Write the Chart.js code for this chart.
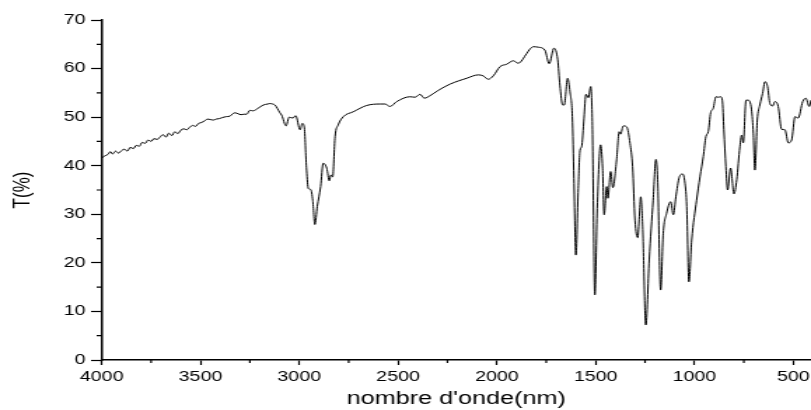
<!DOCTYPE html>
<html>
<head>
<meta charset="utf-8">
<script src="https://cdn.jsdelivr.net/npm/chart.js@4"></script>
<style>
html,body{margin:0;padding:0;background:#fff;overflow:hidden}
canvas{display:block}
</style>
</head>
<body>
<canvas id="c" width="579" height="410" style="width:811px;height:410px"></canvas>
<script>
const wavenumbers = [
  4000,3985,3970,3955,3945,3930,3915,3900,3885,3870,
  3855,3840,3825,3810,3795,3780,3765,3750,3735,3720,
  3705,3690,3675,3660,3645,3630,3615,3600,3585,3570,
  3555,3540,3525,3510,3495,3480,3465,3450,3435,3420,
  3405,3390,3370,3351,3340,3325,3310,3295,3280,3266,
  3250,3234,3210,3182,3160,3148,3135,3123,3098,3089,
  3067,3051,3033,3018,2996,2985,2975,2963,2954,2942,
  2932,2921,2909,2892,2879,2861,2848,2840,2831,2819,
  2803,2777,2727,2659,2592,2566,2541,2507,2440,2414,
  2389,2367,2339,2297,2237,2153,2094,2069,2044,2018,
  1984,1950,1917,1892,1849,1833,1816,1790,1757,1735,
  1711,1692,1681,1667,1659,1642,1630,1618,1610,1600,
  1588,1579,1571,1559,1549,1537,1525,1517,1504,1492,
  1475,1465,1457,1444,1438,1424,1413,1394,1381,1374,
  1360,1343,1326,1313,1301,1287,1279,1272,1262,1246,
  1229,1209,1195,1186,1171,1158,1141,1120,1107,1094,
  1077,1060,1048,1039,1028,1014,989,972,955,942,
  930,918,905,891,880,867,859,851,841,832,
  817,800,786,770,761,753,739,728,711,702,
  694,682,669,655,643,630,618,604,593,576,
  559,542,525,508,491,475,452,436,419,410
];
const transmittance = [
  41.6,42.0,42.3,42.9,42.4,43.0,42.6,43.1,43.4,43.0,
  43.8,43.5,44.2,44.0,44.8,44.6,45.3,45.0,45.6,45.4,
  45.9,46.4,45.9,46.7,46.2,47.0,46.6,47.3,47.6,47.4,
  47.9,48.3,48.1,48.7,48.9,49.2,49.6,49.5,49.4,49.6,
  49.7,49.9,50.1,50.2,50.6,50.9,50.7,50.5,50.6,50.6,
  51.4,51.3,51.8,52.5,52.7,52.8,52.7,52.5,50.9,50.4,
  48.2,50.0,49.8,50.3,47.4,48.7,48.0,39.1,35.3,35.1,
  32.9,27.9,31.6,35.7,40.5,39.5,36.9,38.1,37.7,46.0,
  48.4,50.1,51.1,52.4,52.7,52.7,52.2,53.2,54.2,54.1,
  54.7,53.9,54.4,55.5,56.8,58.0,58.7,58.5,57.8,58.5,
  60.4,60.9,61.6,61.1,63.1,64.0,64.5,64.4,63.8,61.0,
  64.2,61.8,56.6,52.5,52.5,58.0,55.2,50.1,37.4,21.6,
  35.3,43.2,43.9,49.8,54.7,54.0,56.3,49.1,13.4,31.2,
  44.3,39.5,29.9,35.7,33.3,38.8,35.5,41.2,47.0,46.5,
  48.2,48.0,44.6,39.8,28.8,25.2,29.5,33.6,27.4,7.2,
  20.6,32.9,41.3,37.1,14.4,26.1,30.2,32.6,29.9,33.6,
  37.6,38.3,36.4,31.6,16.1,24.7,32.9,37.7,41.9,46.0,
  47.0,50.9,51.8,54.2,54.1,54.2,53.5,47.4,39.8,35.0,
  39.5,34.2,37.1,43.9,46.3,44.7,53.5,53.5,51.5,46.7,
  39.1,49.4,52.5,54.9,57.3,56.3,52.8,52.3,53.2,52.2,
  47.5,47.4,44.7,45.3,50.1,49.8,53.2,53.9,52.2,53.5
];
const xTickValues = [500,1000,1500,2000,2500,3000,3500,4000];
const xMinorTickValues = [750,1250,1750,2250,2750,3250,3750];
const yTickValues = [0,10,20,30,40,50,60,70];
const yMinorTickValues = [5,15,25,35,45,55,65];
const xTitle = "nombre d'onde(nm)";
const yTitle = "T(%)";

const FONT = "'Liberation Sans', Arial, sans-serif";

const minorTicks = {
  id: 'minorTicks',
  afterDraw(chart) {
    const ctx = chart.ctx, xs = chart.scales.x, ys = chart.scales.y;
    ctx.save();
    ctx.strokeStyle = '#000';
    ctx.lineWidth = 1.2;
    ctx.beginPath();
    xMinorTickValues.forEach(v => {
      const p = xs.getPixelForValue(v);
      ctx.moveTo(p, xs.top);
      ctx.lineTo(p, xs.top + 3);
    });
    yMinorTickValues.forEach(v => {
      const p = ys.getPixelForValue(v);
      ctx.moveTo(ys.right, p);
      ctx.lineTo(ys.right - 3.6, p);
    });
    ctx.stroke();
    ctx.restore();
  }
};

new Chart(document.getElementById('c'), {
  type: 'line',
  data: {
    datasets: [{
      data: wavenumbers.map((w, i) => ({x: w, y: transmittance[i]})),
      borderColor: '#000',
      borderWidth: 1,
      pointRadius: 0,
      fill: false,
      cubicInterpolationMode: 'monotone'
    }]
  },
  options: {
    responsive: false,
    devicePixelRatio: 1,
    animation: false,
    layout: {padding: {top: 20, right: 0, bottom: 0, left: 0}},
    plugins: {legend: {display: false}, tooltip: {enabled: false}},
    scales: {
      x: {
        type: 'linear',
        reverse: true,
        min: 410,
        max: 4000,
        afterBuildTicks: s => { s.ticks = xTickValues.map(v => ({value: v})); },
        afterFit: s => { s.height = 50; s.paddingLeft = 0; s.paddingRight = 0; },
        grid: {drawOnChartArea: false, drawTicks: true, tickLength: 5, tickColor: '#000', tickWidth: 1.2},
        border: {display: true, color: '#000', width: 1.5},
        ticks: {color: '#000', font: {family: FONT, size: 14}, padding: 4, maxRotation: 0, autoSkip: false,
                callback: v => String(v)},
        title: {display: true, text: xTitle, color: '#000', font: {family: FONT, size: 18}, padding: {top: 0, bottom: 0}}
      },
      y: {
        type: 'linear',
        min: 0,
        max: 70,
        afterBuildTicks: s => { s.ticks = yTickValues.map(v => ({value: v})); },
        afterFit: s => { s.width = 72.6; s.paddingTop = 0; s.paddingBottom = 0; },
        grid: {drawOnChartArea: false, drawTicks: true, tickLength: 7.6, tickColor: '#000', tickWidth: 1.2},
        border: {display: true, color: '#000', width: 1.5},
        ticks: {color: '#000', font: {family: FONT, size: 14}, padding: 4, autoSkip: false,
                callback: v => String(v)},
        title: {display: true, text: yTitle, color: '#000', font: {family: FONT, size: 17}, padding: {top: 6, bottom: 0}}
      }
    }
  },
  plugins: [minorTicks]
});
</script>
</body>
</html>
